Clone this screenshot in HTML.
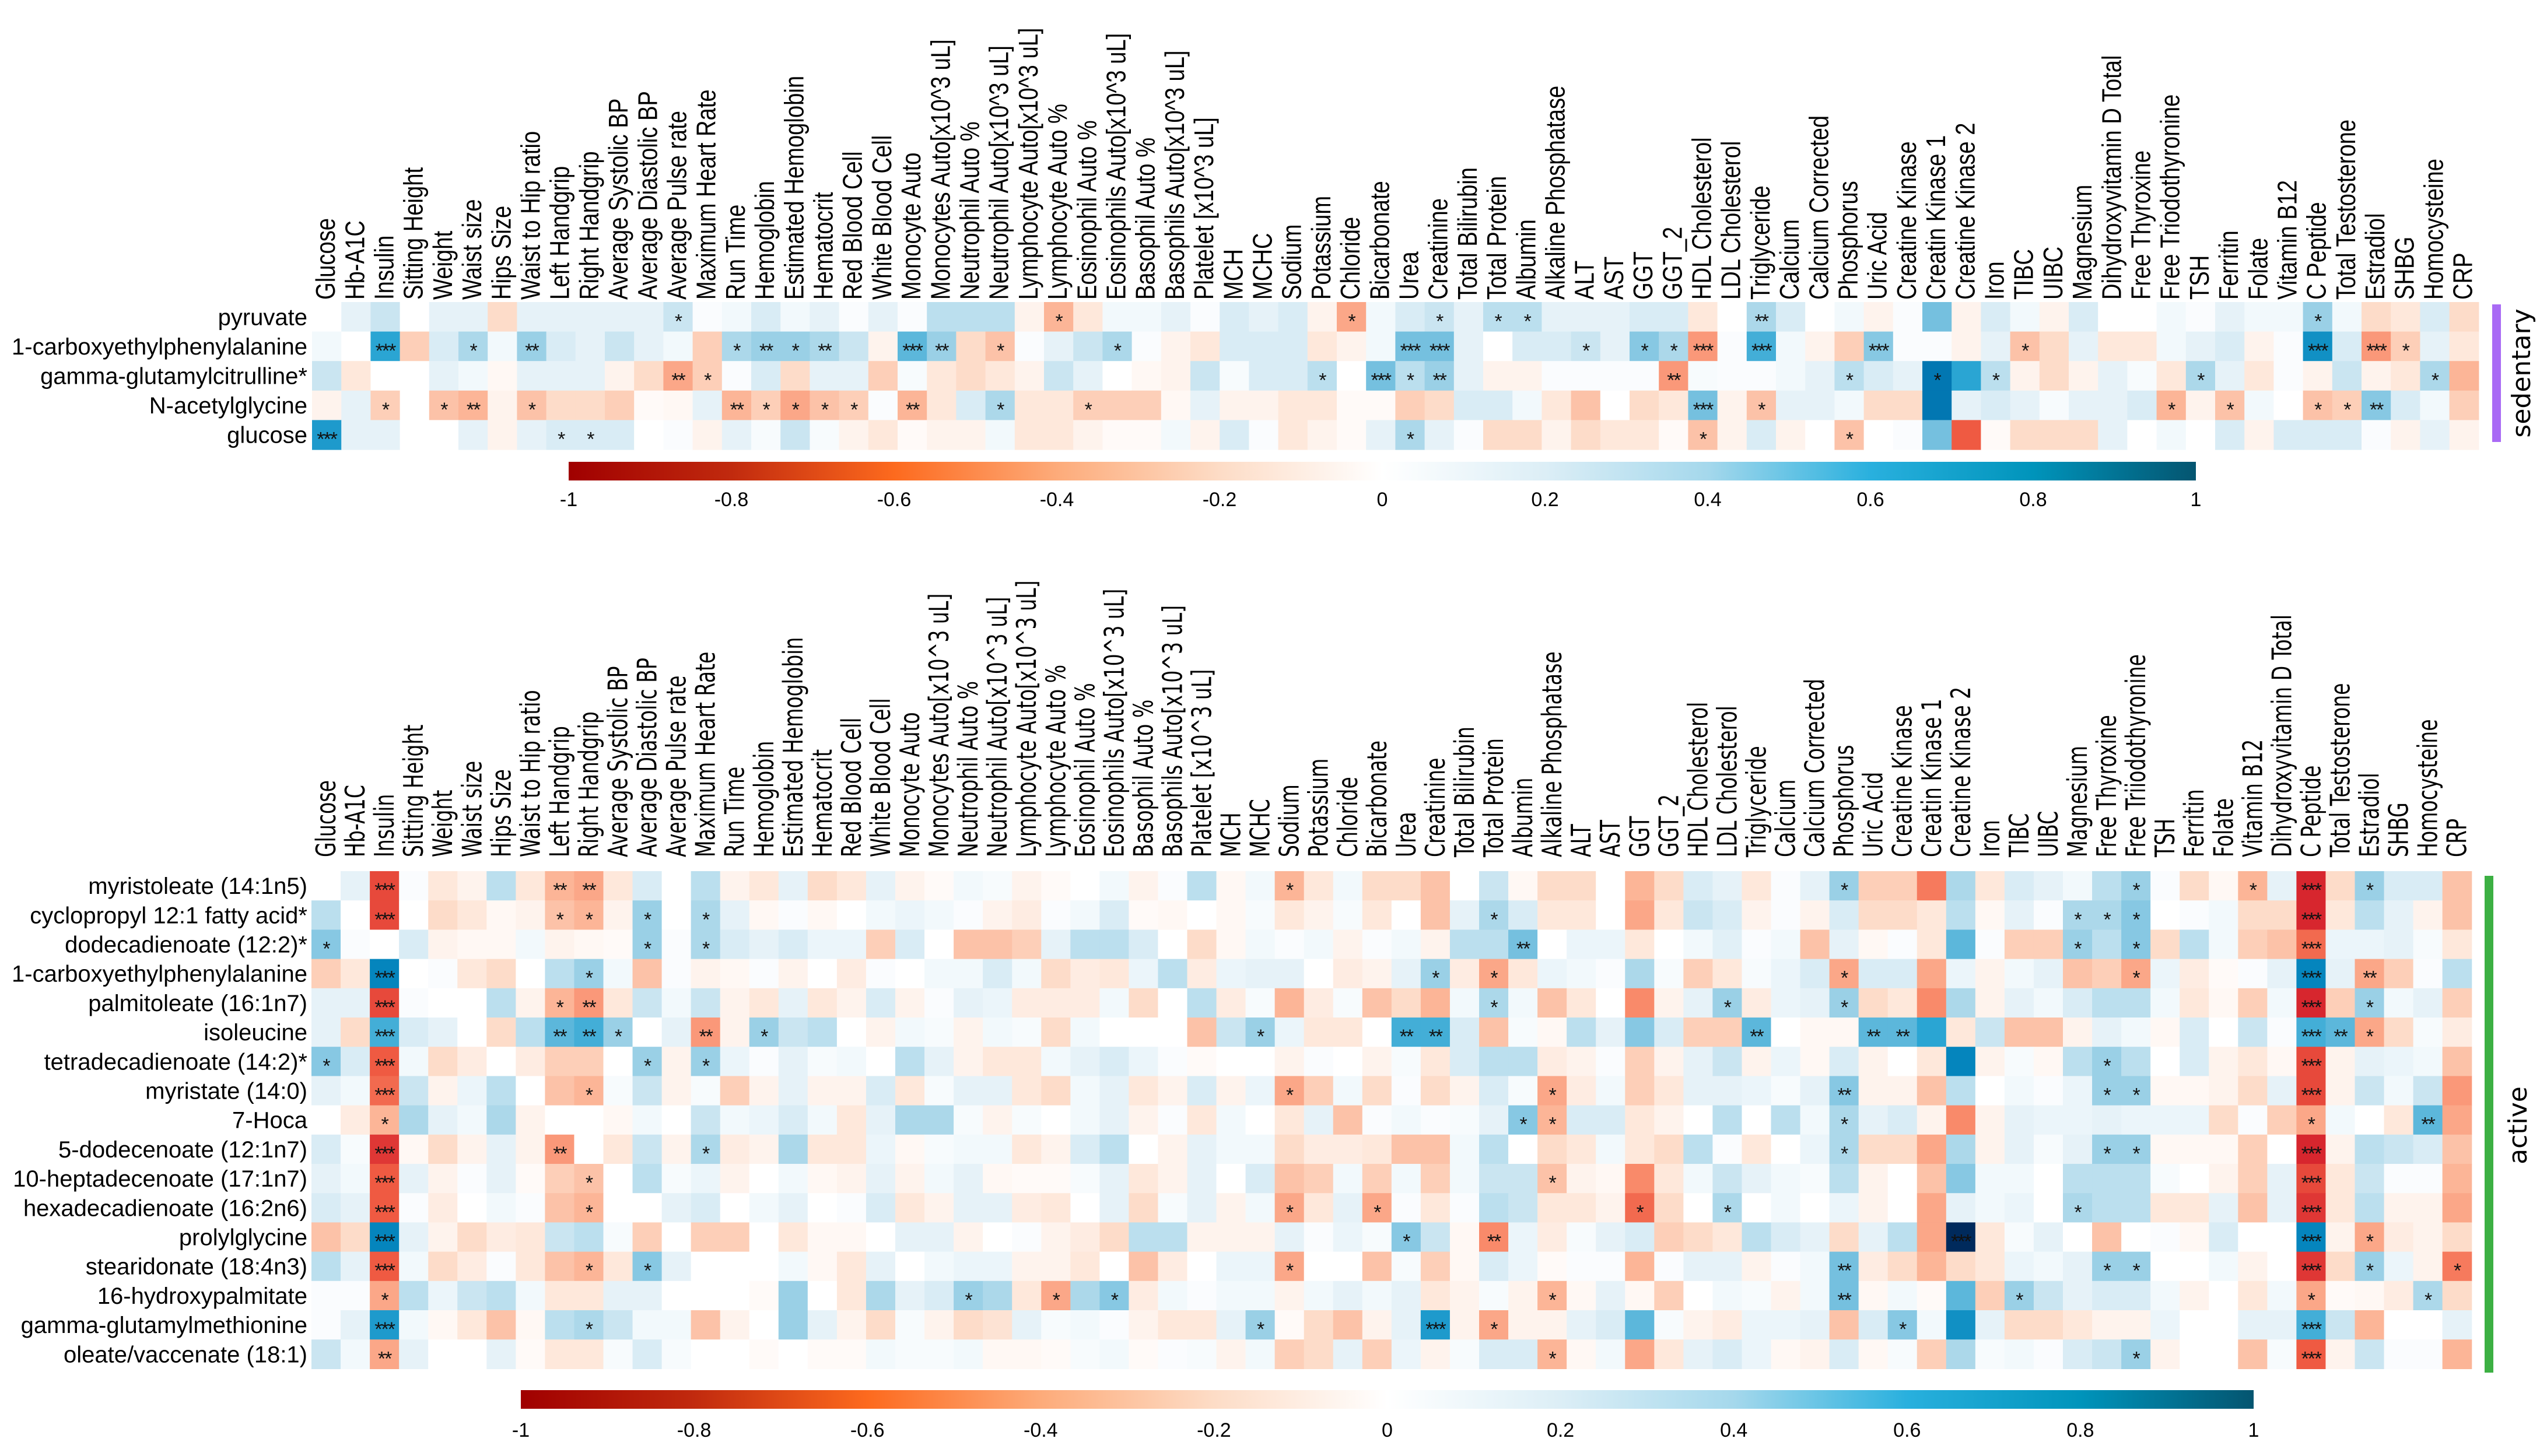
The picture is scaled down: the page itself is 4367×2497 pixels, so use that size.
<!DOCTYPE html>
<html><head><meta charset="utf-8"><title>Metabolite correlation heatmaps</title>
<style>
html,body{margin:0;padding:0;background:#fff;}
svg{display:block;}
</style></head>
<body>
<svg id="chart" xmlns="http://www.w3.org/2000/svg" width="4367" height="2497" viewBox="0 0 4367 2497">
<defs>
<linearGradient id="cbgrad" x1="0" x2="1" y1="0" y2="0">
<stop offset="0" stop-color="#a00000"/><stop offset="0.1" stop-color="#c12a0e"/><stop offset="0.2" stop-color="#fd6a1e"/>
<stop offset="0.3" stop-color="#fdab7a"/><stop offset="0.4" stop-color="#fddcc6"/><stop offset="0.5" stop-color="#ffffff"/>
<stop offset="0.6" stop-color="#dceef6"/><stop offset="0.7" stop-color="#a5d8ec"/><stop offset="0.8" stop-color="#29b0de"/>
<stop offset="0.9" stop-color="#0094bb"/><stop offset="1" stop-color="#045570"/>
</linearGradient>
</defs>
<rect x="4273" y="522" width="15" height="236" fill="#a96af5"/>
<text transform="translate(4338,640) rotate(-90)" text-anchor="middle" font-family="DejaVu Sans, sans-serif" font-size="44">sedentary</text>
<rect x="4260" y="1502" width="15" height="852" fill="#3cb043"/>
<text transform="translate(4332,1930) rotate(-90)" text-anchor="middle" font-family="DejaVu Sans, sans-serif" font-size="44">active</text>
</svg>
<script>
const SVGNS = "http://www.w3.org/2000/svg";
const svg = document.getElementById("chart");

const cols1 = ["Glucose","Hb-A1C","Insulin","Sitting Height","Weight","Waist size","Hips Size","Waist to Hip ratio","Left Handgrip","Right Handgrip","Average Systolic BP","Average Diastolic BP","Average Pulse rate","Maximum Heart Rate","Run Time","Hemoglobin","Estimated Hemoglobin","Hematocrit","Red Blood Cell","White Blood Cell","Monocyte Auto","Monocytes Auto[x10^3 uL]","Neutrophil Auto %","Neutrophil Auto[x10^3 uL]","Lymphocyte Auto[x10^3 uL]","Lymphocyte Auto %","Eosinophil Auto %","Eosinophils Auto[x10^3 uL]","Basophil Auto %","Basophils Auto[x10^3 uL]","Platelet [x10^3 uL]","MCH","MCHC","Sodium","Potassium","Chloride","Bicarbonate","Urea","Creatinine","Total Bilirubin","Total Protein","Albumin","Alkaline Phosphatase","ALT","AST","GGT","GGT_2","HDL Cholesterol","LDL Cholesterol","Triglyceride","Calcium","Calcium Corrected","Phosphorus","Uric Acid","Creatine Kinase","Creatin Kinase 1","Creatine Kinase 2","Iron","TIBC","UIBC","Magnesium","Dihydroxyvitamin D Total","Free Thyroxine","Free Triodothyronine","TSH","Ferritin","Folate","Vitamin B12","C Peptide","Total Testosterone","Estradiol","SHBG","Homocysteine","CRP"];
const cols2 = ["Glucose","Hb-A1C","Insulin","Sitting Height","Weight","Waist size","Hips Size","Waist to Hip ratio","Left Handgrip","Right Handgrip","Average Systolic BP","Average Diastolic BP","Average Pulse rate","Maximum Heart Rate","Run Time","Hemoglobin","Estimated Hemoglobin","Hematocrit","Red Blood Cell","White Blood Cell","Monocyte Auto","Monocytes Auto[x10^3 uL]","Neutrophil Auto %","Neutrophil Auto[x10^3 uL]","Lymphocyte Auto[x10^3 uL]","Lymphocyte Auto %","Eosinophil Auto %","Eosinophils Auto[x10^3 uL]","Basophil Auto %","Basophils Auto[x10^3 uL]","Platelet [x10^3 uL]","MCH","MCHC","Sodium","Potassium","Chloride","Bicarbonate","Urea","Creatinine","Total Bilirubin","Total Protein","Albumin","Alkaline Phosphatase","ALT","AST","GGT","GGT_2","HDL Cholesterol","LDL Cholesterol","Triglyceride","Calcium","Calcium Corrected","Phosphorus","Uric Acid","Creatine Kinase","Creatin Kinase 1","Creatine Kinase 2","Iron","TIBC","UIBC","Magnesium","Free Thyroxine","Free Triiodothyronine","TSH","Ferritin","Folate","Vitamin B12","Dihydroxyvitamin D Total","C Peptide","Total Testosterone","Estradiol","SHBG","Homocysteine","CRP"];

const rows1 = ["pyruvate","1-carboxyethylphenylalanine","gamma-glutamylcitrulline*","N-acetylglycine","glucose"];
const rows2 = ["myristoleate (14:1n5)","cyclopropyl 12:1 fatty acid*","dodecadienoate (12:2)*","1-carboxyethylphenylalanine","palmitoleate (16:1n7)","isoleucine","tetradecadienoate (14:2)*","myristate (14:0)","7-Hoca","5-dodecenoate (12:1n7)","10-heptadecenoate (17:1n7)","hexadecadienoate (16:2n6)","prolylglycine","stearidonate (18:4n3)","16-hydroxypalmitate","gamma-glutamylmethionine","oleate/vaccenate (18:1)"];

const p1r0 = [0,0.1,0.2,0,0.1,0.1,-0.15,0.1,0.1,0.1,0.1,0.1,0.2,0.02,0.05,0.15, 0.05,0.1,0.02,0.1,0.02,0.25,0.25,0.25,-0.05,-0.3,-0.1,0.05,0.05,0.1,0.02,0.15,0.1,0.15,-0.05,-0.35,0.05,0.15,0.2,0.1,0.25,0.25,0.1,0.1, 0.1,0.15,0.15,-0.1,0,0.3,0.15,0,0.05,-0.05,0.02,0.45,-0.05,0.15,0.05,-0.05,0.15,0,0,0.05,0.02,0.1,0.05,0.05,0.35,0.05,-0.15,-0.1,0.15,-0.15];
const p1r1 = [0.05,0,0.6,-0.2,0.15,0.3,0.05,0.35,0.15,0.1,0.2,0.1,0.05,-0.2,0.3,0.35, 0.35,0.3,0.2,-0.05,0.5,0.35,-0.15,-0.25,0.02,0.1,0.2,0.3,0.02,-0.05,-0.1,0.15,0.15,0.15,-0.1,-0.05,0.05,0.45,0.45,0.1,0,0.15,0.15,0.2, 0.1,0.4,0.3,-0.4,0.02,0.55,0.05,-0.05,-0.2,0.4,0.02,0.02,-0.05,0.1,-0.25,-0.15,0.1,-0.1,-0.1,0.05,0.1,0.15,-0.05,0.02,0.7,0.15,-0.4,-0.2,0.1,-0.1];
const p1r2 = [0.2,-0.1,0,0,0.1,0.05,-0.03,0.1,0.1,0.1,-0.05,-0.15,-0.35,-0.2,0.02,0.15, -0.15,0.1,0.1,-0.2,0.03,-0.1,-0.15,-0.1,-0.05,0.2,0.1,0,-0.03,-0.05,0.2,0.03,0.15,0.15,0.25,0,0.45,0.25,0.35,0.1,-0.05,-0.05,0.02,0.02, 0.02,0.02,-0.4,0.03,0.02,0.02,0.05,0.1,0.25,0.15,0.1,0.85,0.6,0.25,-0.05,-0.15,-0.05,0.1,0.03,-0.1,0.3,0.1,-0.1,0.02,-0.05,0.2,-0.05,-0.1,0.3,-0.3];
const p1r3 = [-0.05,0.1,-0.2,0,-0.25,-0.3,-0.05,-0.25,-0.15,-0.15,-0.2,-0.02,-0.03,0.1,-0.3,-0.2, -0.35,-0.25,-0.2,0.02,-0.3,-0.1,0.15,0.3,-0.1,-0.1,-0.2,-0.2,-0.2,-0.03,0.1,-0.05,-0.05,-0.1,-0.1,-0.02,-0.02,-0.2,-0.15,0.15,0.15,0.05,-0.1,-0.25, 0,-0.15,-0.1,0.45,-0.05,-0.25,0.1,0.1,0.05,-0.15,-0.15,0.85,0.1,0.15,0.1,0.03,0.1,0.1,0.15,-0.3,-0.05,-0.25,0.05,0,-0.25,-0.2,0.4,0.15,0.05,-0.2];
const p1r4 = [0.65,0.1,0.1,0,0,0.1,-0.05,0.1,0.15,0.15,0.15,0,0.02,-0.05,0.1,0.03, 0.2,0.03,-0.05,-0.1,-0.02,-0.05,-0.05,0.05,-0.1,-0.1,-0.05,-0.02,-0.02,0.05,-0.05,0.15,0.02,-0.1,-0.05,-0.02,0.1,0.3,0.1,0.02,-0.15,-0.15,-0.05,-0.15, -0.1,-0.1,-0.02,-0.25,-0.05,0.15,-0.05,0,-0.25,0,0.02,0.45,-0.6,-0.02,-0.15,-0.15,-0.15,0.1,0,0.05,0,0.15,-0.05,0.15,0.15,0.15,0.02,-0.05,0.1,-0.05];
const values1 = [p1r0,p1r1,p1r2,p1r3,p1r4];

const p2r0 = [0,0.1,-0.65,0.02,-0.1,-0.05,0.25,-0.1,-0.3,-0.35,-0.1,0.15,0,0.25,-0.05,-0.1,0.1, -0.15,-0.1,0.1,-0.05,-0.02,0.05,0.03,-0.05,-0.02,0,0.05,-0.05,0.02,0.25,-0.03,0.05,-0.3,-0.1,0.05,-0.15,-0.15,-0.25,0,0.2,-0.03,-0.15,-0.15,0, -0.3,-0.15,0.15,0.1,-0.1,0.02,0.1,0.35,-0.2,-0.2,-0.5,0.3,-0.1,0.15,0.1,0.05,0.25,0.35,0.02,-0.15,-0.03,-0.3,0.1,-0.75,-0.15,0.35,0.15,0.15,-0.25];
const p2r1 = [0.25,0,-0.65,0,-0.15,-0.1,-0.03,-0.05,-0.25,-0.3,-0.05,0.35,0,0.3,0.1,-0.03,0.02, -0.03,0,0.05,0.08,0.05,0.02,-0.05,-0.08,0.02,0.05,0.15,-0.02,-0.03,0,-0.03,0.03,-0.1,-0.05,0.03,-0.1,0,-0.25,0.1,0.3,0.15,-0.1,-0.1,0, -0.35,-0.1,0.2,0.15,-0.05,0.02,-0.05,0.15,-0.15,-0.15,-0.1,0.25,-0.03,0.1,0.02,0.3,0.3,0.4,0,0.02,0.05,-0.15,-0.15,-0.75,-0.1,0.25,0.1,-0.05,-0.25];
const p2r2 = [0.4,0.02,0,0.15,-0.05,-0.03,-0.03,0.05,-0.05,-0.03,-0.02,0.35,0.02,0.3,0.15,0.1,0.15, 0.08,0.08,-0.2,0.15,0,-0.25,-0.25,-0.2,0.1,0.25,0.25,0.15,0,-0.15,-0.03,0.05,0.02,0.05,-0.05,0.02,0.05,-0.05,0.25,0.25,0.45,0,0.08,0.08, -0.1,0,0.05,0.12,0.02,0.05,-0.25,0.1,-0.03,0.02,-0.1,0.5,0.02,-0.2,-0.2,0.35,0.25,0.4,-0.15,0.25,0.05,-0.2,-0.25,-0.55,0.08,0.08,0.1,0.03,-0.1];
const p2r3 = [-0.2,-0.1,0.75,0,0.02,-0.1,-0.15,0,0.25,0.35,0.05,-0.25,0.02,-0.05,-0.03,0.02,-0.05, 0,-0.08,0.02,0,0.05,0.05,0.15,0.05,-0.15,-0.08,-0.1,0.08,0.25,-0.08,0.08,0.1,0.1,0,-0.08,-0.05,0.1,0.35,-0.08,-0.35,-0.1,0.08,0.05,0.02, 0.3,0.03,-0.2,-0.1,0.03,0.08,0.15,-0.35,0.15,0.15,-0.35,0.08,-0.05,0.05,0.1,-0.25,-0.2,-0.35,0.08,-0.08,-0.02,0.02,0.1,0.75,0.1,-0.35,-0.2,0.02,0.25];
const p2r4 = [0.1,0.1,-0.65,0.02,0,0,0.25,-0.05,-0.3,-0.4,-0.1,0.2,0.05,0.2,-0.05,-0.1,0.1, -0.1,-0.05,0.15,-0.05,0.02,0.1,0.08,-0.08,-0.08,-0.08,0.05,-0.15,0,0.25,-0.08,0.03,-0.3,-0.08,0.03,-0.25,-0.15,-0.3,0.05,0.3,0.05,-0.25,-0.1,0, -0.45,-0.05,0.1,0.35,-0.08,0.08,0.1,0.35,-0.15,-0.1,-0.45,0.3,-0.05,0.1,0.05,0.15,0.25,0.25,0.05,-0.1,-0.03,-0.2,0.05,-0.75,-0.2,0.35,0.05,0.1,-0.2];
const p2r5 = [0.1,-0.15,0.55,0.15,0.1,0,-0.15,0.25,0.5,0.55,0.35,0,0.1,-0.4,-0.05,0.35,0.2, 0.25,0,-0.05,0.05,0.03,-0.05,0.05,0.03,-0.15,0.05,0,0,0,-0.25,0.2,0.35,0.08,-0.1,-0.1,0,0.55,0.55,0.15,-0.25,0.03,-0.03,0.25,0.1, 0.4,0.15,-0.2,-0.2,0.5,0,-0.03,-0.03,0.5,0.5,0.6,-0.1,0.2,-0.25,-0.25,-0.05,0.1,0.05,-0.03,0.15,0,0.2,0.02,0.55,0.5,-0.35,-0.15,0.03,-0.08];
const p2r6 = [0.4,0.15,-0.6,0.05,-0.15,-0.08,0,-0.08,-0.2,-0.2,0,0.35,-0.05,0.35,0.08,0.02,0.1, 0.03,0.05,0,0.25,0.1,-0.05,-0.1,-0.1,0.05,0.1,0.15,0.08,0.02,-0.02,0,0,-0.05,0.02,0,-0.05,0.03,-0.1,0.15,0.25,0.25,-0.08,-0.05,0.02, -0.2,-0.05,0.1,0.2,-0.05,0.08,-0.03,0.15,-0.05,0,-0.1,0.75,-0.05,0.03,-0.03,0.25,0.35,0.25,0,0.15,-0.05,-0.1,-0.03,-0.65,-0.05,0.1,0.08,0.05,-0.25];
const p2r7 = [0.1,0.05,-0.55,0.2,-0.05,0.08,0.25,0,-0.25,-0.3,0.03,0.2,-0.05,0.03,-0.2,-0.05,0.1, -0.05,-0.05,0.15,-0.1,0.03,0.1,0.1,-0.1,-0.15,0.05,0.1,-0.1,-0.05,0.15,-0.05,0.08,-0.35,-0.2,0.05,-0.15,0.02,-0.15,-0.05,0.15,0.03,-0.35,-0.08,0.05, -0.2,-0.1,0.1,0.1,0.08,0.03,0.1,0.4,-0.05,-0.05,-0.25,0.25,0,0.05,0.02,0.08,0.35,0.35,-0.03,-0.03,-0.05,-0.15,0.1,-0.65,-0.05,0.2,0.05,0.2,-0.4];
const p2r8 = [0,-0.08,-0.3,0.3,0.1,0.05,0.3,-0.05,0,0,-0.03,0.05,0,0.2,0.05,0.08,0.15, 0.05,-0.1,0.1,0.3,0.3,0.03,-0.05,0.03,0,0.05,0.1,-0.05,0.02,-0.1,0.05,0,-0.1,0.1,-0.25,0.02,0.05,0.02,0.03,0.1,0.4,-0.3,0.15,0.15, -0.1,-0.05,0,0.25,0,0.25,0.05,0.3,0.1,0.15,-0.05,-0.45,-0.05,0.1,0.08,0.08,0.1,0.08,0.08,0.08,-0.15,0.02,-0.2,-0.35,0.05,0,-0.1,0.5,-0.35];
const p2r9 = [0.15,0.03,-0.7,-0.03,-0.15,-0.05,0.1,-0.05,-0.4,0,-0.1,0.2,-0.05,0.3,-0.08,-0.05,0.3, -0.1,-0.1,0.08,-0.03,0.03,0.05,0.05,-0.1,-0.05,0.15,0.25,0,-0.05,0.1,0.05,0.05,-0.15,-0.08,-0.08,-0.1,-0.25,-0.25,0.05,0.25,0,-0.15,-0.1,0.05, -0.1,-0.15,0.25,0.02,-0.1,0,0.08,0.3,-0.15,-0.15,-0.35,0.3,-0.05,0.1,0.03,0.1,0.35,0.35,-0.03,-0.03,-0.03,-0.2,0,-0.75,-0.05,0.25,0.2,0.15,-0.25];
const p2r10 = [0.1,0.05,-0.6,0.1,-0.05,0.02,0.1,-0.02,-0.2,-0.25,0,0.25,0.03,0.08,-0.05,0,0.05, -0.03,-0.05,0.1,-0.05,0.05,0.1,-0.03,-0.02,-0.02,0.03,0.1,-0.1,-0.05,0.1,0,0.15,-0.25,-0.2,0.05,-0.2,0.05,-0.2,0.05,0.2,0.2,-0.25,-0.05,-0.03, -0.45,-0.1,0.05,0.2,0.1,0.05,0.03,0.25,-0.05,0,-0.25,0.4,0.05,0.05,0,0.25,0.25,0.25,0.03,0,-0.05,-0.2,0.1,-0.65,-0.1,0.2,0.02,0.02,-0.3];
const p2r11 = [0.15,0.1,-0.6,0.02,-0.08,0,0.05,0.02,-0.25,-0.3,0,0,0.1,0.15,0,0.05,0.1, 0,0.02,0.15,-0.1,-0.05,0.1,0.1,-0.08,-0.1,0,0.1,-0.15,0.03,0.1,-0.05,0.05,-0.35,-0.1,0.1,-0.35,0.02,-0.1,0.02,0.25,0.2,-0.1,-0.1,-0.05, -0.55,-0.15,0,0.3,0,0.05,0,0.08,-0.05,0,-0.35,0.1,0.05,0.08,0,0.3,0.25,0.25,-0.1,-0.1,0.1,-0.25,0.1,-0.7,-0.1,0.25,-0.05,-0.05,-0.35];
const p2r12 = [-0.25,-0.15,0.75,0.1,-0.05,-0.15,-0.08,-0.1,0.2,0.25,0.03,-0.2,0,-0.2,-0.2,0,-0.1, -0.03,-0.03,0,0.1,0.1,-0.05,0,0.02,-0.05,-0.08,-0.15,0.25,0.25,-0.05,-0.05,-0.05,0.1,0.02,0.08,0.03,0.4,0.2,-0.03,-0.45,0.08,-0.08,0.03,0.1, 0.15,-0.2,-0.15,-0.1,0.25,0.15,0.1,-0.15,0.1,0.25,-0.35,1.0,-0.1,0.03,0.1,0,-0.25,0,0.02,-0.03,0.15,0,0,0.75,-0.05,-0.35,-0.08,-0.05,-0.15];
const p2r13 = [0.25,0.1,-0.6,0.05,-0.15,-0.08,0.02,-0.1,-0.25,-0.3,-0.1,0.4,0.1,0,0,0,0.05, -0.03,-0.1,0.1,0,0.05,0.08,0.08,-0.05,-0.05,-0.1,0,-0.25,-0.08,0,0.08,0.08,-0.35,0,0,-0.25,0.03,-0.2,-0.03,0.15,0.08,-0.02,0.02,0.02, -0.3,0.02,0.1,0.1,-0.05,0.02,0.05,0.45,-0.08,-0.15,-0.3,-0.15,-0.1,0.08,0.05,0.1,0.35,0.35,0,0,0.05,-0.05,0,-0.7,-0.15,0.35,0.08,-0.05,-0.5];
const p2r14 = [0.02,0.02,-0.35,0.25,0.08,0.2,0.25,0.05,-0.1,-0.1,0.1,0.1,0,0,0,-0.02,0.35, 0,-0.1,0.3,0.1,0.15,0.35,0.3,-0.1,-0.35,0.3,0.4,-0.08,0.05,0.02,0.05,0.05,-0.05,0.05,0.1,0.05,0.1,-0.1,-0.05,0.03,-0.05,-0.3,-0.03,0.1, -0.03,-0.2,0,0.05,0.03,-0.05,0.05,0.45,-0.03,0.05,-0.02,0.5,-0.2,0.35,0.2,0.1,0.15,0.15,0.05,-0.05,0,-0.1,0.05,-0.35,-0.02,-0.03,-0.08,0.3,-0.15];
const p2r15 = [0.02,0.1,0.65,0.05,-0.03,-0.1,-0.25,-0.03,0.25,0.3,0.2,0.05,0.05,-0.25,-0.05,0,0.35, 0.1,-0.05,-0.15,0.03,-0.05,-0.15,-0.12,0.1,0.03,0.05,0.02,-0.05,-0.1,-0.1,0.1,0.35,-0.02,-0.15,-0.25,-0.05,0.1,0.65,-0.05,-0.35,-0.05,-0.05,0.1,0.15, 0.5,0.03,-0.05,-0.08,0.08,0.08,0.1,-0.25,0.15,0.4,0.05,0.7,0.1,-0.15,-0.15,-0.1,-0.05,-0.05,0.08,0,0,0.1,0.1,0.55,0.2,-0.3,0,0,0.1];
const p2r16 = [0.2,0.05,-0.35,0.1,0,0,0.1,-0.02,-0.1,-0.1,0.03,0.15,0.03,0,0,-0.02,0, -0.02,-0.02,0.05,0.03,0.03,0.05,-0.03,-0.03,-0.02,0.03,0.05,-0.02,0.02,0.03,-0.05,0.05,-0.2,-0.15,0.1,-0.2,0.08,-0.05,0.03,0.15,0.15,-0.3,-0.03,0.05, -0.35,-0.1,0.1,0.15,0.08,-0.03,-0.05,0.15,-0.03,0.03,-0.2,0.3,0.03,0.05,0.02,0.15,0.2,0.35,-0.05,0,0,-0.25,0.03,-0.6,-0.05,0.2,0.02,0.02,-0.3];
const values2 = [p2r0,p2r1,p2r2,p2r3,p2r4,p2r5,p2r6,p2r7,p2r8,p2r9,p2r10,p2r11,p2r12,p2r13,p2r14,p2r15,p2r16];

// significance markers: [row, column, number of stars]
const sig1 = [[0,12,1],[0,25,1],[0,35,1],[0,38,1],[0,40,1],[0,41,1],[0,49,2],[0,68,1],
[1,2,3],[1,5,1],[1,7,2],[1,14,1],[1,15,2],[1,16,1],[1,17,2],[1,20,3],[1,21,2],[1,23,1],[1,27,1],[1,37,3],[1,38,3],[1,43,1],[1,45,1],[1,46,1],[1,47,3],[1,49,3],[1,53,3],[1,58,1],[1,68,3],[1,70,3],[1,71,1],
[2,12,2],[2,13,1],[2,34,1],[2,36,3],[2,37,1],[2,38,2],[2,46,2],[2,52,1],[2,55,1],[2,57,1],[2,64,1],[2,72,1],
[3,2,1],[3,4,1],[3,5,2],[3,7,1],[3,14,2],[3,15,1],[3,16,1],[3,17,1],[3,18,1],[3,20,2],[3,23,1],[3,26,1],[3,47,3],[3,49,1],[3,63,1],[3,65,1],[3,68,1],[3,69,1],[3,70,2],
[4,0,3],[4,8,1],[4,9,1],[4,37,1],[4,47,1],[4,52,1]];
const sig2 = [[0,2,3],[0,8,2],[0,9,2],[0,33,1],[0,52,1],[0,62,1],[0,66,1],[0,68,3],[0,70,1],
[1,2,3],[1,8,1],[1,9,1],[1,11,1],[1,13,1],[1,40,1],[1,60,1],[1,61,1],[1,62,1],[1,68,3],
[2,0,1],[2,11,1],[2,13,1],[2,41,2],[2,60,1],[2,62,1],[2,68,3],
[3,2,3],[3,9,1],[3,38,1],[3,40,1],[3,52,1],[3,62,1],[3,68,3],[3,70,2],
[4,2,3],[4,8,1],[4,9,2],[4,40,1],[4,48,1],[4,52,1],[4,68,3],[4,70,1],
[5,2,3],[5,8,2],[5,9,2],[5,10,1],[5,13,2],[5,15,1],[5,32,1],[5,37,2],[5,38,2],[5,49,2],[5,53,2],[5,54,2],[5,68,3],[5,69,2],[5,70,1],
[6,0,1],[6,2,3],[6,11,1],[6,13,1],[6,61,1],[6,68,3],
[7,2,3],[7,9,1],[7,33,1],[7,42,1],[7,52,2],[7,61,1],[7,62,1],[7,68,3],
[8,2,1],[8,41,1],[8,42,1],[8,52,1],[8,68,1],[8,72,2],
[9,2,3],[9,8,2],[9,13,1],[9,52,1],[9,61,1],[9,62,1],[9,68,3],
[10,2,3],[10,9,1],[10,42,1],[10,68,3],
[11,2,3],[11,9,1],[11,33,1],[11,36,1],[11,45,1],[11,48,1],[11,60,1],[11,68,3],
[12,2,3],[12,37,1],[12,40,2],[12,56,3],[12,68,3],[12,70,1],
[13,2,3],[13,9,1],[13,11,1],[13,33,1],[13,52,2],[13,61,1],[13,62,1],[13,68,3],[13,70,1],[13,73,1],
[14,2,1],[14,22,1],[14,25,1],[14,27,1],[14,42,1],[14,52,2],[14,58,1],[14,68,1],[14,72,1],
[15,2,3],[15,9,1],[15,32,1],[15,38,3],[15,40,1],[15,54,1],[15,68,3],
[16,2,2],[16,42,1],[16,62,1],[16,68,3]];

const cbTicks = [-1,-0.8,-0.6,-0.4,-0.2,0,0.2,0.4,0.6,0.8,1];
const cbTickLabels = ["-1","-0.8","-0.6","-0.4","-0.2","0","0.2","0.4","0.6","0.8","1"];

const colorStops = [[-1,[165,15,21]],[-0.75,[215,38,46]],[-0.6,[239,90,66]],[-0.45,[249,138,106]],[-0.3,[252,181,151]],[-0.15,[253,220,201]],[0,[255,255,255]],[0.15,[217,236,245]],[0.3,[172,216,234]],[0.45,[117,192,223]],[0.6,[42,165,211]],[0.75,[5,133,189]],[0.9,[0,112,173]],[1,[0,42,92]]];
function colorOf(v){
  v=Math.max(-1,Math.min(1,v));
  for(let i=0;i<colorStops.length-1;i++){
    const a=colorStops[i],b=colorStops[i+1];
    if(v>=a[0]&&v<=b[0]){
      const t=(v-a[0])/(b[0]-a[0]);
      const c=a[1].map((x,k)=>Math.round(x+(b[1][k]-x)*t));
      return "rgb("+c.join(",")+")";
    }
  }
  return "#fff";
}
function mk(tag, attrs, parent){
  const e=document.createElementNS(SVGNS,tag);
  for(const k in attrs) e.setAttribute(k,attrs[k]);
  (parent||svg).appendChild(e);
  return e;
}

function drawPanel(cfg){
  const g=mk("g",{});
  
  
  const xOf=c=>cfg.x0+c*cfg.cw;
  const yOf=r=>cfg.y0+r*cfg.rh;
  cfg.values.forEach((row,r)=>{
    row.forEach((v,c)=>{
      const rect=mk("rect",{x:xOf(c),y:yOf(r),width:cfg.cw+0.6,height:cfg.rh+0.6,fill:colorOf(v)},g);
      
      
    });
  });
  cfg.sig.forEach(s=>{
    const t=mk("text",{x:xOf(s[1])+cfg.cw/2,y:yOf(s[0])+cfg.rh/2+19,"text-anchor":"middle","font-family":"Liberation Sans, sans-serif","font-size":"34",fill:"#111","letter-spacing":"-2"},g);
    t.textContent="*".repeat(s[2]);
    
    
  });
  cfg.rows.forEach((name,r)=>{
    const t=mk("text",{x:527,y:yOf(r)+cfg.rh/2+14,"text-anchor":"end","font-family":"Liberation Sans, sans-serif","font-size":"40",fill:"#000"},g);
    t.textContent=name;
    
    
  });
  cfg.cols.forEach((name,c)=>{
    const cx=xOf(c)+cfg.cw/2+cfg.capOff;
    const t=mk("text",{transform:"translate("+cx+","+cfg.labelBottom+") rotate(-90) scale("+cfg.sx+",1)","font-family":cfg.font,"font-size":cfg.fs,fill:"#000"},g);
    t.textContent=name;
    
    
  });
  // colorbar
  const cb=mk("rect",{x:cfg.cbX0,y:cfg.cbY,width:cfg.cbX1-cfg.cbX0,height:cfg.cbH,fill:"url(#cbgrad)"},g);
  
  
  const cbx=v=>cfg.cbX0+(v+1)/2*(cfg.cbX1-cfg.cbX0);
  cbTicks.forEach((v,i)=>{
    const t=mk("text",{x:cbx(v),y:cfg.cbLabelY,"text-anchor":"middle","font-family":"Liberation Sans, sans-serif","font-size":"34",fill:"#000"},g);
    t.textContent=cbTickLabels[i];
    
    
  });
}

drawPanel({name:"sedentary-heatmap",values:values1,sig:sig1,rows:rows1,cols:cols1,x0:535,y0:518,cw:50.2,rh:50.6,
  labelBottom:514,capOff:14,sx:0.83,fs:46,font:"Liberation Sans, sans-serif",
  cbX0:975,cbX1:3765,cbY:792,cbH:32,cbLabelY:868});
drawPanel({name:"active-heatmap",values:values2,sig:sig2,rows:rows2,cols:cols2,x0:534,y0:1494,cw:50.05,rh:50.2,
  labelBottom:1470,capOff:16,sx:0.72,fs:46,font:"DejaVu Sans, sans-serif",
  cbX0:893,cbX1:3864,cbY:2384,cbH:32,cbLabelY:2464});
</script>
</body></html>
